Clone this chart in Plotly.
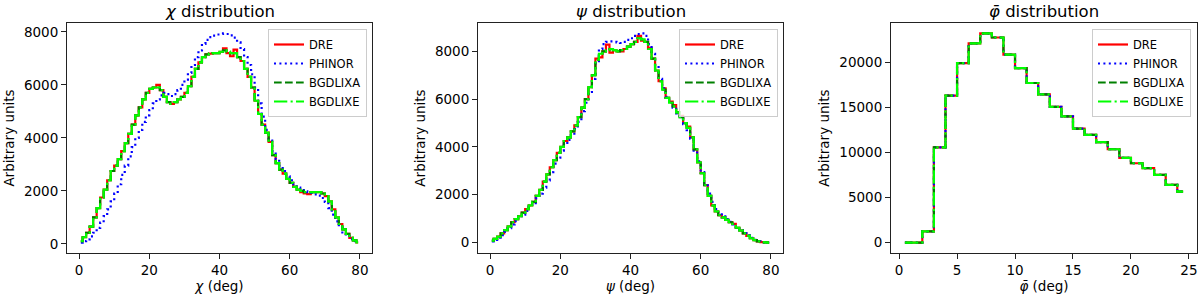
import plotly.graph_objects as go

# ---------------- data ----------------
chi_bins = [0.5 + i for i in range(80)]
psi_bins = [0.5 + i for i in range(80)]
phi_bins = [0.5 + i for i in range(25)]

chi_bgdlixe = [100, 250, 420, 650, 1000, 1350, 1750, 2050, 2400, 2750,
               2950, 3200, 3500, 3800, 4150, 4500, 4850, 5150, 5450, 5700,
               5850, 5900, 5900, 5800, 5550, 5350, 5280, 5350, 5450, 5550,
               5700, 5950, 6300, 6600, 6850, 7050, 7150, 7180, 7200, 7200,
               7250, 7300, 7250, 7200, 7200, 7050, 6900, 6600, 6300, 5900,
               5400, 4900, 4500, 4200, 3850, 3350, 3050, 2800, 2650, 2450,
               2300, 2150, 2050, 2000, 1950, 1950, 1950, 1950, 1950, 1900,
               1800, 1600, 1300, 1000, 750, 550, 380, 230, 130, 60]
chi_bgdlixa = list(chi_bgdlixe)
chi_dre = [100, 250, 420, 650, 1000, 1350, 1750, 2050, 2400, 2750,
           2950, 3200, 3500, 3800, 4150, 4500, 4850, 5150, 5450, 5700,
           5850, 5900, 6000, 5800, 5550, 5350, 5280, 5350, 5450, 5550,
           5700, 5950, 6300, 6600, 6850, 7050, 7150, 7180, 7200, 7200,
           7250, 7380, 7200, 7080, 7330, 7050, 6900, 6600, 6300, 5900,
           5400, 4900, 4500, 4200, 3850, 3350, 3050, 2800, 2650, 2450,
           2300, 2150, 2050, 1950, 1900, 1880, 1950, 1950, 1950, 1900,
           1800, 1600, 1300, 1000, 750, 550, 380, 230, 130, 60]
chi_phinor = [50, 100, 170, 280, 420, 600, 800, 1050, 1300, 1600,
              1900, 2250, 2600, 2950, 3300, 3650, 4000, 4300, 4600, 4850,
              5050, 5300, 5450, 5600, 5700, 5650, 5580, 5650, 5800, 6000,
              6200, 6450, 6750, 7050, 7300, 7550, 7700, 7800, 7860, 7900,
              7920, 7940, 7920, 7870, 7780, 7600, 7350, 7050, 6750, 6400,
              5900, 5300, 4800, 4300, 3900, 3500, 3200, 2950, 2750, 2550,
              2400, 2250, 2120, 2030, 1980, 1950, 1920, 1870, 1820, 1730,
              1580, 1350, 1100, 850, 620, 430, 290, 180, 100, 50]

psi_bgdlixe = [80, 150, 250, 380, 520, 680, 850, 980, 1100, 1250,
               1400, 1550, 1700, 1950, 2200, 2550, 2850, 3150, 3450, 3750,
               4000, 4250, 4400, 4650, 4900, 5250, 5650, 6000, 6500, 7000,
               7650, 7900, 8000, 8050, 8100, 8050, 8000, 8050, 8100, 8200,
               8300, 8400, 8550, 8500, 8400, 8100, 7700, 7200, 6750, 6400,
               6050, 5850, 5700, 5450, 5250, 5000, 4800, 4400, 3900, 3350,
               2900, 2400, 1950, 1550, 1300, 1150, 1050, 950, 850, 780,
               620, 500, 380, 280, 180, 100, 50, 20, 5, 0]
psi_bgdlixa = list(psi_bgdlixe)
psi_dre = [80, 150, 250, 380, 520, 680, 850, 980, 1100, 1250,
           1400, 1550, 1700, 1950, 2200, 2550, 2850, 3150, 3450, 3750,
           4000, 4250, 4400, 4650, 4900, 5250, 5650, 6000, 6500, 7000,
           7700, 7750, 8000, 8280, 7950, 8050, 8000, 8000, 8100, 8200,
           8300, 8400, 8650, 8450, 8400, 8150, 7700, 7200, 6750, 6450,
           6050, 5900, 5750, 5450, 5300, 5000, 4850, 4400, 3900, 3350,
           2900, 2400, 1950, 1550, 1300, 1150, 1050, 950, 850, 780,
           620, 500, 380, 280, 180, 100, 50, 20, 5, 0]
psi_phinor = [50, 110, 200, 310, 450, 600, 760, 900, 1030, 1170,
              1320, 1480, 1650, 1850, 2050, 2300, 2600, 2950, 3300, 3550,
              3850, 4100, 4300, 4500, 4750, 5050, 5500, 5850, 6300, 6850,
              7500, 8100, 8300, 8400, 8420, 8400, 8380, 8350, 8400, 8480,
              8550, 8650, 8720, 8750, 8650, 8300, 7900, 7400, 6850, 6450,
              6100, 5850, 5650, 5400, 5200, 4950, 4700, 4350, 3850, 3400,
              2950, 2450, 2050, 1700, 1400, 1250, 1100, 980, 870, 760,
              640, 520, 400, 300, 200, 110, 55, 20, 5, 0]

phi_bgdlixe = [0, 0, 1250, 10550, 16300, 19900, 22100, 23200, 22750, 20850,
               19350, 17700, 16450, 15050, 14000, 12650, 11950, 11150, 10350, 9400,
               8800, 8250, 7500, 6400, 5650]
phi_bgdlixa = list(phi_bgdlixe)
phi_dre = list(phi_bgdlixe)
phi_phinor = list(phi_bgdlixe)

series_names = ["DRE", "PHINOR", "BGDLIXA", "BGDLIXE"]
series_colors = ["#ff0000", "#0000ff", "#008000", "#00ff00"]
series_dash = ["solid", "2px,3.4px", "7.7px,3.3px", "13.3px,3.3px,2.1px,3.3px"]

titles = ["<i>χ</i> distribution", "<i>ψ</i> distribution", "<i>φ̄</i> distribution"]
xlabels = ["<i>χ</i> (deg)", "<i>ψ</i> (deg)", "<i>φ̄</i> (deg)"]
ylabel = "Arbitrary units"
x_dticks = [20, 20, 5]
y_dticks = [2000, 2000, 5000]

panels = [
    (chi_bins, [chi_dre, chi_phinor, chi_bgdlixa, chi_bgdlixe]),
    (psi_bins, [psi_dre, psi_phinor, psi_bgdlixa, psi_bgdlixe]),
    (phi_bins, [phi_dre, phi_phinor, phi_bgdlixa, phi_bgdlixe]),
]

# ---------------- layout geometry (pixels) ----------------
W, H = 1200, 298
x_frames = [(67, 372), (478, 783), (891, 1197)]
y_top, y_bot = 23, 253
legend_right = [367, 778, 1191]
legend_top = 29

FONT = "DejaVu Sans"

fig = go.Figure()
layout = dict(
    width=W, height=H,
    margin=dict(l=0, r=0, t=0, b=0),
    paper_bgcolor="white", plot_bgcolor="white",
    font=dict(family=FONT, size=13, color="black"),
    annotations=[],
)


def pad_range(lo, hi, frac=0.05):
    d = (hi - lo) * frac
    return [lo - d, hi + d]


for p, (xs, ys_list) in enumerate(panels):
    ax = "" if p == 0 else str(p + 1)
    lg = "legend" if p == 0 else "legend%d" % (p + 1)
    for k, ys in enumerate(ys_list):
        fig.add_trace(go.Scatter(
            x=xs, y=ys, mode="lines", name=series_names[k],
            line=dict(color=series_colors[k], width=2.2, dash=series_dash[k], shape="hvh"),
            xaxis="x" + ax, yaxis="y" + ax, legend=lg, showlegend=True,
        ))
    all_y = [v for ys in ys_list for v in ys]
    xr = pad_range(min(xs), max(xs))
    yr = pad_range(min(all_y), max(all_y))
    x0, x1 = x_frames[p]
    common = dict(showline=True, mirror=True, linecolor="#222222", linewidth=1,
                  ticks="outside", ticklen=5, tickwidth=1, tickcolor="#222222",
                  showgrid=False, zeroline=False, tickformat="d",
                  tickfont=dict(family=FONT, size=13.5, color="black"))
    layout["xaxis" + ax] = dict(
        domain=[x0 / W, x1 / W], range=xr, anchor="y" + ax,
        tick0=0, dtick=x_dticks[p],
        title=dict(text=xlabels[p], font=dict(family=FONT, size=13.5), standoff=4),
        **common)
    layout["yaxis" + ax] = dict(
        domain=[1 - y_bot / H, 1 - y_top / H], range=yr, anchor="x" + ax,
        tick0=0, dtick=y_dticks[p],
        title=dict(text=ylabel, font=dict(family=FONT, size=13.5), standoff=6),
        **common)
    layout[lg] = dict(
        x=legend_right[p] / W, xanchor="right",
        y=1 - legend_top / H, yanchor="top",
        bgcolor="rgba(255,255,255,0.8)", bordercolor="#cccccc", borderwidth=1,
        font=dict(family=FONT, size=11.5, color="black"),
        itemwidth=30, tracegroupgap=0,
    )
    layout["annotations"].append(dict(
        text=titles[p], x=(x0 + x1) / 2 / W, y=1 - 11 / H, xref="paper", yref="paper",
        xanchor="center", yanchor="middle", showarrow=False,
        font=dict(family=FONT, size=16.5, color="black"),
    ))

fig.update_layout(**layout)
fig.write_html(
    "out.html",
    config={"displayModeBar": False},
    post_script="document.body.style.margin='0px';document.body.style.overflow='hidden';",
)
